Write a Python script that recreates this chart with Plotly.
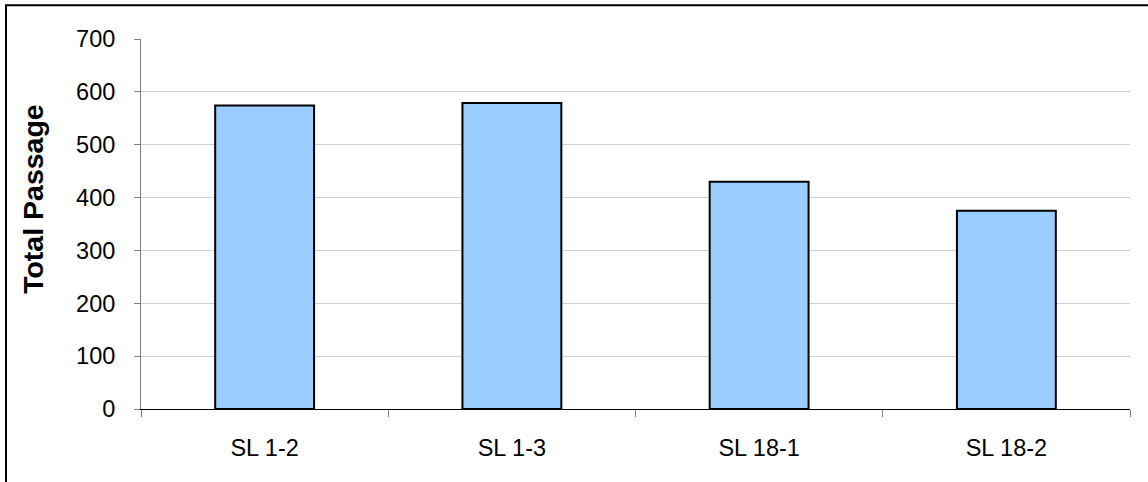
import plotly.graph_objects as go

# Total passage per site
sites = ["SL 1-2", "SL 1-3", "SL 18-1", "SL 18-2"]
total_passage = [574, 579, 430, 375]
y_ticks = [0, 100, 200, 300, 400, 500, 600, 700]

W, H = 1148, 482
L, R, T, B = 141, 18, 39, 73

fig = go.Figure(
    go.Bar(
        x=sites,
        y=total_passage,
        marker=dict(color="#99CCFF", line=dict(color="#000000", width=2)),
        width=0.4,
    )
)

fig.update_layout(
    width=W,
    height=H,
    margin=dict(l=L, r=R, t=T, b=B, pad=0),
    paper_bgcolor="#FFFFFF",
    plot_bgcolor="#FFFFFF",
    showlegend=False,
    font=dict(family="Liberation Sans, Arial, sans-serif", size=23.5, color="#000000"),
    bargap=0.6,
)

fig.update_xaxes(
    type="category",
    showgrid=False,
    showline=True,
    linecolor="#000000",
    linewidth=1,
    ticks="outside",
    tickson="boundaries",
    ticklen=7,
    tickcolor="#808080",
    tickwidth=1,
    ticklabelstandoff=18,
    tickfont=dict(size=23.5),
)

fig.update_yaxes(
    range=[0, 700],
    tickvals=y_ticks,
    ticktext=[str(v) for v in y_ticks],
    showgrid=True,
    gridcolor="#D0D0D0",
    gridwidth=1,
    zeroline=False,
    showline=True,
    linecolor="#808080",
    linewidth=1,
    ticks="outside",
    ticklen=6,
    tickcolor="#808080",
    ticklabelstandoff=14,
    tickfont=dict(size=23.5),
)

# Rotated y-axis title
fig.add_annotation(
    text="<b>Total Passage</b>",
    xref="paper",
    yref="paper",
    x=(33 - L) / (W - L - R),
    y=0.568,
    xanchor="center",
    yanchor="middle",
    textangle=-90,
    showarrow=False,
    font=dict(size=28.5, color="#000000"),
)

# Chart frame
pw, ph = W - L - R, H - T - B
fig.add_shape(
    type="rect",
    xref="paper",
    yref="paper",
    x0=(6 - L) / pw,
    x1=(1160 - L) / pw,
    y0=(H - B - 495) / ph,
    y1=(H - B - 5.3) / ph,
    line=dict(color="#000000", width=2),
    fillcolor="rgba(0,0,0,0)",
    layer="above",
)

fig.write_html("out.html")
